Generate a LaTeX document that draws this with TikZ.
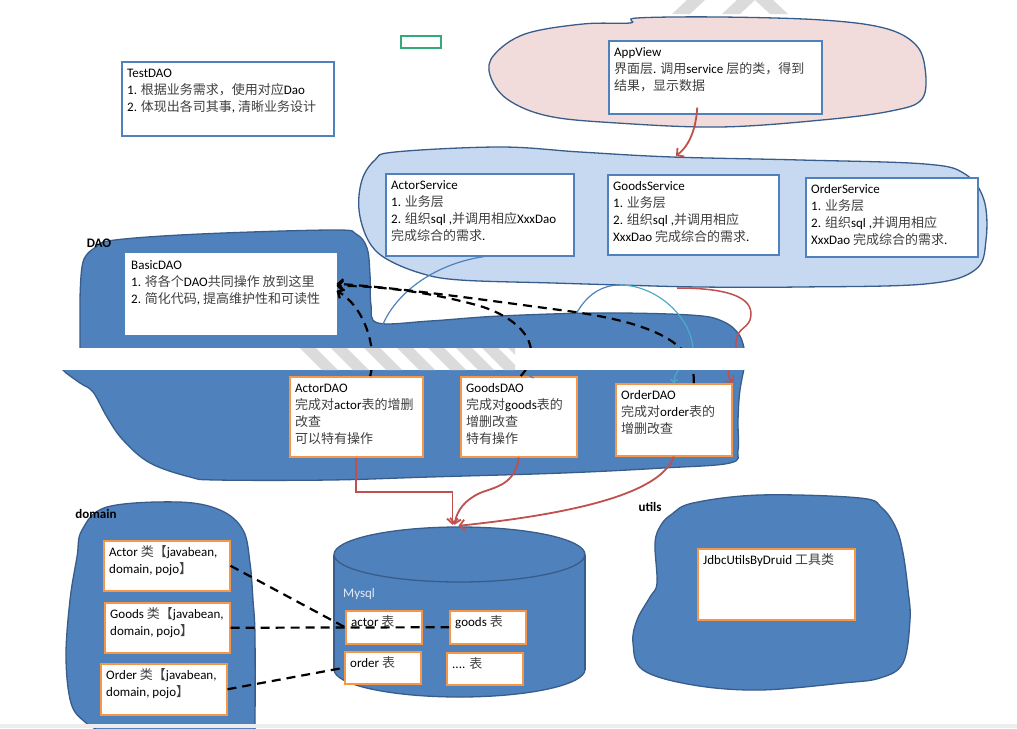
\documentclass[tikz,border=0pt]{standalone}
\usepackage{fontspec}
\setmainfont{Carlito}
\newfontfamily\cjkfont[Color=404040]{Noto Sans CJK SC}
\usetikzlibrary{arrows.meta,positioning}

% switch to the CJK font for Chinese characters
\newXeTeXintercharclass\cjkclass
\newcount\cjkcnt
\newcommand\setcjkrange[2]{\cjkcnt=#1\relax
  \loop\XeTeXcharclass\cjkcnt=\cjkclass\advance\cjkcnt by 1\relax\ifnum\cjkcnt<#2\relax\repeat}
\setcjkrange{"3000}{"3040}
\setcjkrange{"4E00}{"A000}
\setcjkrange{"FF00}{"FFF0}
\XeTeXinterchartoks 0 \cjkclass = {\cjkfont}
\XeTeXinterchartoks 4095 \cjkclass = {\cjkfont}
\XeTeXinterchartoks \cjkclass 0 = {\rmfamily}
\XeTeXinterchartoks \cjkclass 4095 = {\rmfamily}
\XeTeXinterchartokenstate=1

\definecolor{daoblue}{HTML}{4F81BD}
\definecolor{blobline}{HTML}{385D8A}
\definecolor{svcfill}{HTML}{C6D9F1}
\definecolor{viewfill}{HTML}{F2DCDB}
\definecolor{boxorange}{HTML}{F79646}
\definecolor{arrred}{HTML}{C0504D}
\definecolor{arrcyan}{HTML}{4BACC6}
\definecolor{markgreen}{HTML}{33AA77}

\begin{document}
\begin{tikzpicture}[
  x=1pt, y=-1pt,
  font=\fontsize{13}{17}\selectfont,
  blob/.style      ={draw=blobline, line width=1.3pt},
  daoblob/.style   ={blob, fill=daoblue},
  svcblob/.style   ={blob, fill=svcfill},
  viewblob/.style  ={blob, fill=viewfill},
  card/.style      ={draw, fill=white, line width=1.5pt, anchor=north west, inner sep=0pt},
  bluecard/.style  ={card, draw=daoblue},
  orangecard/.style={card, draw=boxorange},
  plaincard/.style ={card, draw=white},
  txt/.style       ={anchor=north west, inner xsep=6pt, inner ysep=4pt, align=left, text=black},
  grouplbl/.style  ={font=\fontsize{13}{16}\selectfont\bfseries, inner sep=0pt},
  redarr/.style    ={-{Straight Barb[length=5pt,width=11pt]}, draw=arrred, line width=1.8pt},
  bluearc/.style   ={-{Straight Barb[length=3pt,width=7pt]}, draw=daoblue, line width=1.2pt},
  cyanarc/.style   ={bluearc, draw=arrcyan},
  dashline/.style  ={draw=black, line width=2.2pt, dash pattern=on 9pt off 6pt},
  dasharr/.style   ={dashline, -{Straight Barb[length=5pt,width=10pt]}},
  wmark/.style     ={fill=black!14}
]
\useasboundingbox (0,0) rectangle (1017,728);
\clip (0,0) rectangle (1017,728);
\fill[white] (0,0) rectangle (1017,728);

% =================== TOP ===================
\fill[wmark] (672,14) -- (690,14) -- (705,0) -- (687,0) -- cycle;
\fill[wmark] (722,14) -- (740,14) -- (755,0) -- (737,0) -- cycle;
\fill[wmark] (770,14) -- (788,14) -- (773,0) -- (755,0) -- cycle;

\node[card, draw=markgreen, minimum width=40pt, minimum height=12pt] (greenmark) at (400,35) {};

\node[bluecard, minimum width=212pt, minimum height=74pt,
  label={[txt]north west:{\strut TestDAO\\1. 根据业务需求，使用对应Dao\\2. 体现出各司其事, 清晰业务设计}}] (testdao) at (121,61) {};

% =================== VIEW LAYER ===================
\path[viewblob] plot[smooth cycle, tension=0.6] coordinates {(637,18) (720,17) (822,20) (884,28) (915,44) (925,68) (922,99) (891,111) (822,120) (720,127) (617,123) (548,116) (507,99) (490,75) (494,55) (525,34) (583,24) (630,23)};

\node[bluecard, minimum width=213pt, minimum height=73pt,
  label={[txt]north west:{\strut AppView\\界面层. 调用service 层的类，得到\\结果，显示数据}}] (appview) at (608,40) {};

% =================== DAO LAYER ===================
\path[daoblob] (80,360) -- plot[smooth, tension=0.6] coordinates {(80,300) (83,262) (96,247) (115,240) (200,234) (333,230) (356,234) (367,248) (370,275) (371,305) (378,323) (430,321) (500,316) (600,313) (690,315) (722,321) (740,336) (746,360)} -- cycle;
\path[daoblob] plot[smooth, tension=0.6] coordinates {(746,360) (740,390) (738,420) (738,450) (730,463) (663,468) (563,473) (430,477) (330,480) (217,480) (190,477) (150,463) (123,440) (107,417) (93,392) (80,383) (63,370) (60,360)} -- cycle;
\node[grouplbl] (daolbl) at (99,243) {DAO};

% =================== SERVICE LAYER ===================
\path[svcblob] plot[smooth cycle, tension=0.6] coordinates {(395,152) (500,147) (580,152) (672,157) (800,160) (925,164) (965,174) (984,200) (986,240) (975,270) (925,284) (800,287) (700,287) (620,285) (553,283) (460,280) (420,273) (385,258) (368,240) (359,210) (362,180) (375,160)};

\node[bluecard, minimum width=188pt, minimum height=82pt,
  label={[txt]north west:{\strut ActorService\\1. 业务层\\2. 组织sql ,并调用相应XxxDao\\完成综合的需求.}}] (actorsvc) at (385,173) {};
\node[bluecard, minimum width=171pt, minimum height=80pt,
  label={[txt]north west:{\strut GoodsService\\1. 业务层\\2. 组织sql ,并调用相应\\XxxDao 完成综合的需求.}}] (goodssvc) at (607,174) {};
\node[bluecard, minimum width=172pt, minimum height=79pt,
  label={[txt]north west:{\strut OrderService\\1. 业务层\\2. 组织sql ,并调用相应\\XxxDao 完成综合的需求.}}] (ordersvc) at (805,177) {};

\coordinate (svctop)   at (676,156);
\coordinate (arcsplit) at (620,285);
\coordinate (redstart) at (677,288);

% =================== DAO CLASSES ===================
\node[plaincard, minimum width=210pt, minimum height=80pt,
  label={[txt]north west:{\strut BasicDAO\\1. 将各个DAO共同操作 放到这里\\2. 简化代码, 提高维护性和可读性}}] (basicdao) at (125,253) {};

\node[orangecard, minimum width=133pt, minimum height=80pt,
  label={[txt]north west:{\strut ActorDAO\\完成对actor表的增删\\改查\\可以特有操作}}] (actordao) at (289,376) {};
\node[orangecard, minimum width=116pt, minimum height=80pt,
  label={[txt]north west:{\strut GoodsDAO\\完成对goods表的\\增删改查\\特有操作}}] (goodsdao) at (460,376) {};
\node[orangecard, minimum width=116pt, minimum height=72pt,
  label={[txt]north west:{\strut OrderDAO\\完成对order表的\\增删改查}}] (orderdao) at (615,383) {};

% =================== ARROWS (upper part) ===================
% AppView -> service layer
\draw[redarr] ([xshift=-18pt,yshift=7pt]appview.south) .. controls (696,128) and (690,145) .. (svctop);

% services -> DAOs
\draw[bluearc] ([xshift=5pt]actorsvc.south) .. controls (425,265) and (380,305) .. (377,348)
  .. controls (376,362) and (362,368) .. (actordao.north);
\draw[bluearc] (arcsplit) .. controls (585,285) and (570,320) .. (566,345)
  .. controls (562,362) and (540,372) .. ([xshift=10pt]goodsdao.north);
\draw[cyanarc] (arcsplit) .. controls (655,285) and (690,315) .. (693,348)
  .. controls (694,362) and (675,365) .. (orderdao.north);
\draw[redarr, line width=1.5pt] (redstart) .. controls (735,288) and (756,300) .. (750,320)
  .. controls (746,330) and (735,328) .. (736,347)
  .. controls (737,365) and (722,368) .. (orderdao.north east);

% DAOs -> BasicDAO
\draw[dasharr] ([xshift=14pt]actordao.north) .. controls (378,345) and (362,305) .. ([yshift=3pt]basicdao.east);
\draw[dasharr] ([xshift=2pt]goodsdao.north) .. controls (545,350) and (525,320) .. (480,306)
  .. controls (430,292) and (380,286) .. ([yshift=8pt]basicdao.east);
\draw[dasharr] ([xshift=20pt]orderdao.north) .. controls (695,355) and (680,325) .. (560,310)
  .. controls (470,298) and (400,288) .. ([yshift=10pt]basicdao.east);

% cut band + watermark
\fill[white] (0,348) rectangle (1017,370);
\begin{scope}
  \clip (295,348) rectangle (515,370);
  \foreach \xa in {300,331,364,397,428,456,482,508}
    \fill[wmark] (\xa,348) -- ++(16,0) -- ++(22,22) -- ++(-16,0) -- cycle;
\end{scope}

% =================== DOMAIN ===================
\path[daoblob] plot[smooth, tension=0.6] coordinates {(255,735) (255,637) (253,600) (250,563) (243,530) (220,510) (178,502) (107,507) (82,530) (77,557) (70,600) (66,657) (71,703) (85,722) (107,735)} -- cycle;
\node[grouplbl] (domainlbl) at (96,514) {domain};

\node[orangecard, minimum width=126pt, minimum height=50pt,
  label={[txt]north west:{\strut Actor 类【javabean,\\domain, pojo】}}] (actordom) at (103,540) {};
\node[orangecard, minimum width=125pt, minimum height=50pt,
  label={[txt]north west:{\strut Goods 类【javabean,\\domain, pojo】}}] (goodsdom) at (104,602) {};
\node[orangecard, minimum width=126pt, minimum height=51pt,
  label={[txt]north west:{\strut Order 类【javabean,\\domain, pojo】}}] (orderdom) at (100,663) {};

% =================== MYSQL ===================
\filldraw[fill=daoblue, draw=blobline, line width=1.3pt] (459.5,669.5) ellipse [x radius=125.5, y radius=27.5];
\fill[daoblue] (334,554.5) rectangle (585,669.5);
\draw[blobline, line width=1.3pt] (334,554.5) -- (334,669.5) (585,554.5) -- (585,669.5);
\filldraw[fill=daoblue, draw=blobline, line width=1.3pt] (459.5,554.5) ellipse [x radius=125.5, y radius=27.5];
\node[inner sep=0pt, minimum width=251pt, minimum height=170pt] (mysql) at (459.5,612) {};
\node[anchor=west, inner sep=0pt, text=white!85!daoblue] (mysqllbl) at (343,594) {Mysql};

\node[orangecard, minimum width=76pt, minimum height=33pt,
  label={[txt]north west:{\strut actor 表}}] (actortbl) at (345,610) {};
\node[orangecard, minimum width=76pt, minimum height=33pt,
  label={[txt]north west:{\strut goods 表}}] (goodstbl) at (449,610) {};
\node[orangecard, minimum width=76pt, minimum height=32pt,
  label={[txt]north west:{\strut order 表}}] (ordertbl) at (344,651) {};
\node[orangecard, minimum width=76pt, minimum height=32pt,
  label={[txt]north west:{\strut .... 表}}] (moretbl) at (446,652) {};

% =================== UTILS ===================
\path[daoblob] plot[smooth cycle, tension=0.6] coordinates {(693,503) (760,495) (860,498) (882,508) (896,528) (903,553) (908,590) (910,620) (903,663) (880,678) (843,683) (760,690) (693,685) (643,670) (633,643) (637,620) (650,597) (657,583) (655,543) (661,525) (672,514)};
\node[grouplbl] (utilslbl) at (650,507) {utils};
\node[orangecard, minimum width=157pt, minimum height=71pt,
  label={[txt]north west:{\strut JdbcUtilsByDruid 工具类}}] (jdbc) at (697,548) {};

% =================== ARROWS (lower part) ===================
% DAOs -> Mysql
\draw[redarr] (actordao.south) |- ([xshift=-7pt,yshift=35pt]mysql.north) -- ([xshift=-7pt,yshift=2pt]mysql.north);
\draw[redarr] (goodsdao.south) .. controls (515,485) and (495,487) .. (480,493)
  .. controls (465,500) and (457,510) .. ([xshift=-5pt,yshift=2pt]mysql.north);
\draw[redarr] (orderdao.south) .. controls (662,490) and (590,512) .. ([xshift=-1pt,yshift=1pt]mysql.north);

% domain classes <-> tables
\draw[dashline] (actordom.east) -- (actortbl.west);
\draw[dashline] (goodsdom.east) -- (goodstbl.west);
\draw[dashline] (orderdom.east) -- (ordertbl.west);

\fill[black!7] (0,724) rectangle (1017,728);
\end{tikzpicture}
\end{document}
